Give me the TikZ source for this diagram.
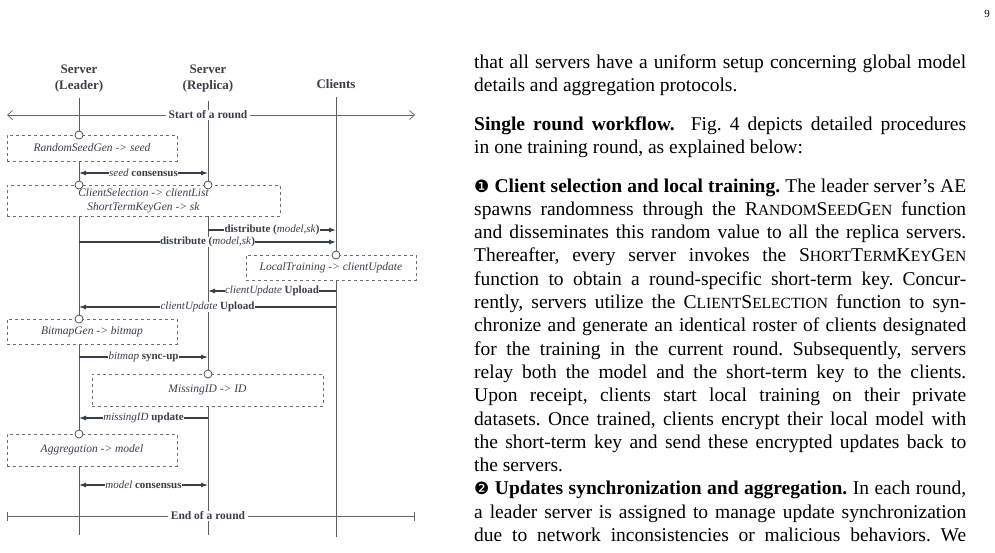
\documentclass[tikz,border=0pt]{standalone}
\usepackage{fontspec}
\setmainfont{Liberation Serif}
\newfontfamily\symfont{DejaVu Sans}
\usetikzlibrary{arrows.meta}
\definecolor{ink}{HTML}{3A3F4A}
\newcommand{\fsc}[1]{{\fontsize{15.5}{18}\selectfont #1}}
\begin{document}
\begin{tikzpicture}[x=1pt,y=-1pt,
  life/.style={draw=ink!85,line width=0.8pt},
  procbox/.style={draw=ink!75,dashed,fill=white,line width=0.7pt,inner sep=0pt},
  knot/.style={circle,draw=ink,fill=white,minimum size=8pt,inner sep=0pt,line width=0.7pt},
  msg/.style={draw=ink,line width=1.1pt,-{Latex[length=7pt,width=5pt]}},
  bmsg/.style={draw=ink,line width=1.1pt,{Latex[length=7pt,width=5pt]}-{Latex[length=7pt,width=5pt]}},
  lbl/.style={fill=white,inner sep=0.5pt,text=ink,font=\fontsize{11}{12}\selectfont},
  btxt/.style={text=ink,font=\fontsize{11.5}{14}\selectfont\itshape,align=center},
  head/.style={text=ink,font=\fontsize{13}{16}\selectfont\bfseries,align=center},
  body/.style={anchor=base west,inner sep=0pt,text width=492pt,align=justify,font=\fontsize{19.5}{23.3}\selectfont\frenchspacing}]
\useasboundingbox (0,0) rectangle (995,552);
% headers
\node[head] (hL) at (79,79) {Server\\(Leader)};
\node[head] (hR) at (208,79) {Server\\(Replica)};
\node[head] (hC) at (336,84) {Clients};
\coordinate (Lt) at (79,98); \coordinate (Lb) at (79,535);
\coordinate (Rt) at (208,101); \coordinate (Rb) at (208,535);
\coordinate (Ct) at (336,97); \coordinate (Cb) at (336,537);
\draw[life] (Lt)--(Lb); \draw[life] (Rt)--(Rb); \draw[life] (Ct)--(Cb);
% start
\coordinate (s1) at (7,115); \coordinate (s2) at (415,115);
\draw[draw=ink!80,line width=0.7pt,{Straight Barb[length=5pt,width=9pt]}-{Straight Barb[length=5pt,width=9pt]}] (s1)--(s2);
\node[lbl,font=\fontsize{11.5}{12}\selectfont\bfseries,inner xsep=3pt] (st) at (208,115) {Start of a round};
% box1
\node[procbox,minimum width=170pt,minimum height=26pt] (b1) at (92,148) {};
\node[btxt] at (b1) {RandomSeedGen -> seed};
\node[knot] (k1) at (79,135) {};
% seed consensus
\coordinate (a1) at (79,173); \coordinate (a2) at (208,173);
\draw[bmsg] (a1)--(a2) node[midway,lbl] {\textit{seed} \textbf{consensus}};
% box2
\node[procbox,minimum width=273pt,minimum height=31pt] (b2) at (143.5,200.5) {};
\node[btxt] at (b2) {ClientSelection -> clientList\\ShortTermKeyGen -> sk};
\node[knot] (k2) at (79,185) {};
\node[knot] (k3) at (208,185) {};
% distribute
\coordinate (d1) at (208,230); \coordinate (d2) at (336,230);
\draw[msg] (d1)--(d2) node[midway,lbl] {\textbf{distribute (}\textit{model,sk}\textbf{)}};
\coordinate (e1) at (79,242); \coordinate (e2) at (336,242);
\draw[msg] (e1)--(e2) node[pos=0.5,lbl] {\textbf{distribute (}\textit{model,sk}\textbf{)}};
% local training
\node[procbox,minimum width=170pt,minimum height=25pt] (b3) at (331,267.5) {};
\node[btxt] at (b3) {LocalTraining -> clientUpdate};
\node[knot] (k4) at (336,255) {};
% uploads
\coordinate (u1) at (336,291); \coordinate (u2) at (208,291);
\draw[msg] (u1)--(u2) node[midway,lbl] {\textit{clientUpdate} \textbf{Upload}};
\coordinate (v1) at (336,307); \coordinate (v2) at (79,307);
\draw[msg] (v1)--(v2) node[midway,lbl] {\textit{clientUpdate} \textbf{Upload}};
% bitmap
\node[procbox,minimum width=170pt,minimum height=25pt] (b4) at (92,331.5) {};
\node[btxt] at (b4) {BitmapGen -> bitmap};
\node[knot] (k5) at (79,319) {};
\coordinate (w1) at (79,357); \coordinate (w2) at (208,357);
\draw[msg] (w1)--(w2) node[midway,lbl] {\textit{bitmap} \textbf{sync-up}};
% missing
\node[procbox,minimum width=231pt,minimum height=32pt] (b5) at (207.5,390) {};
\node[btxt] at (b5) {MissingID -> ID};
\node[knot] (k6) at (208,374) {};
\coordinate (m1) at (208,418); \coordinate (m2) at (79,418);
\draw[msg] (m1)--(m2) node[midway,lbl] {\textit{missingID} \textbf{update}};
% aggregation
\node[procbox,minimum width=170pt,minimum height=32pt] (b6) at (92,450) {};
\node[btxt] at (b6) {Aggregation -> model};
\node[knot] (k7) at (79,434) {};
\coordinate (g1) at (79,485); \coordinate (g2) at (208,485);
\draw[bmsg] (g1)--(g2) node[midway,lbl] {\textit{model} \textbf{consensus}};
% end
\coordinate (n1) at (7,516); \coordinate (n2) at (415,516);
\draw[draw=ink!80,line width=0.7pt,{Bar[width=9pt]}-{Bar[width=9pt]}] (n1)--(n2);
\node[lbl,font=\fontsize{11.5}{12}\selectfont\bfseries,inner xsep=3pt] (en) at (208,516) {End of a round};
% page text
\node[anchor=base east,inner sep=0pt,font=\fontsize{11}{12}\selectfont] (pg) at (990,17) {9};
\node[body] (p1) at (474,68) {that all servers have a uniform setup concerning global model\linebreak details and aggregation protocols.};
\node[body] (p2) at (474,130) {\textbf{Single round workflow.}\ \ Fig.~4 depicts detailed procedures\linebreak in one training round, as explained below:};
\node[body] (p3) at (474,192) {{\symfont\fontsize{17}{20}\selectfont ❶}\ \textbf{Client selection and local training.} The leader server's AE\linebreak
spawns randomness through the R\fsc{ANDOM}S\fsc{EED}G\fsc{EN} function\linebreak
and disseminates this random value to all the replica servers.\linebreak
Thereafter, every server invokes the S\fsc{HORT}T\fsc{ERM}K\fsc{EY}G\fsc{EN}\linebreak
function to obtain a round-specific short-term key. Concur-\linebreak
rently, servers utilize the C\fsc{LIENT}S\fsc{ELECTION} function to syn-\linebreak
chronize and generate an identical roster of clients designated\linebreak
for the training in the current round. Subsequently, servers\linebreak
relay both the model and the short-term key to the clients.\linebreak
Upon receipt, clients start local training on their private\linebreak
datasets. Once trained, clients encrypt their local model with\linebreak
the short-term key and send these encrypted updates back to\linebreak
the servers.\\
{\symfont\fontsize{17}{20}\selectfont ❷}\ \textbf{Updates synchronization and aggregation.} In each round,\linebreak
a leader server is assigned to manage update synchronization\linebreak
due to network inconsistencies or malicious behaviors. We\linebreak};
\end{tikzpicture}
\end{document}
